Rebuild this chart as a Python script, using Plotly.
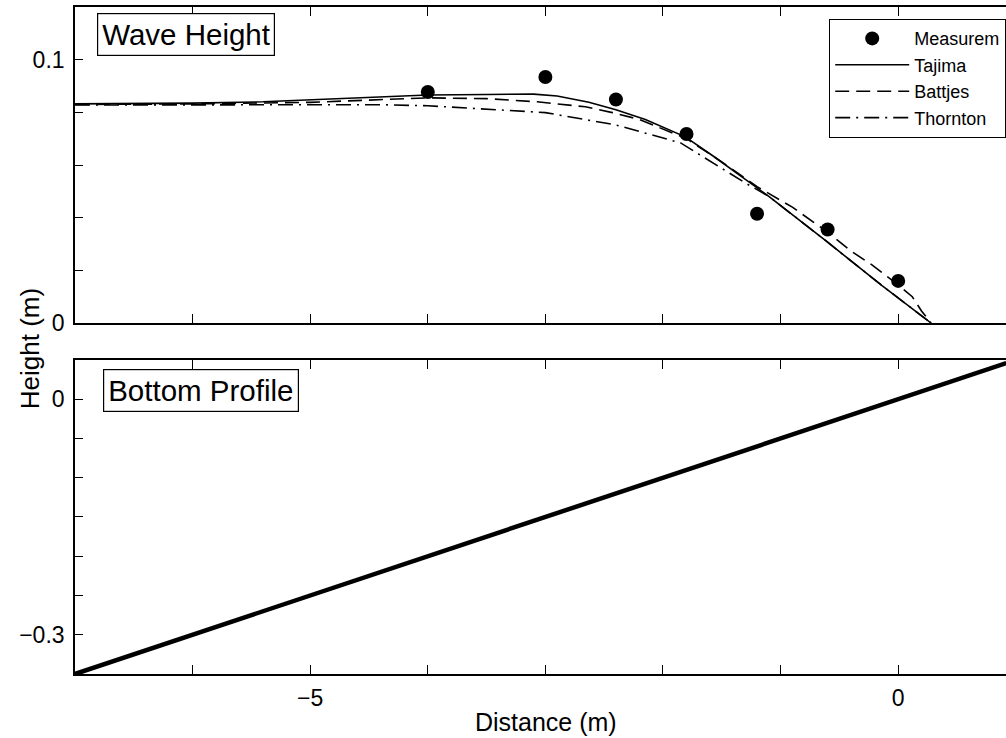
import plotly.graph_objects as go

# ---- data ----
meas_x = [-4.0, -3.0, -2.4, -1.8, -1.2, -0.6, 0.0]
meas_y = [0.0877, 0.0934, 0.0849, 0.0718, 0.0415, 0.0355, 0.0160]

tajima_x = [-7.0, -6.0, -5.4, -5.0, -4.3, -4.0, -3.5, -3.1, -2.9, -2.63, -2.4, -2.15, -1.81, -1.58, -1.1, -0.6, -0.14, 0.28]
tajima_y = [0.0832, 0.0835, 0.0840, 0.0848, 0.0862, 0.0866, 0.0868, 0.0869, 0.0862, 0.0838, 0.0810, 0.0773, 0.0707, 0.0636, 0.0481, 0.0307, 0.0143, 0.0]

battjes_x = [-7.0, -6.0, -5.0, -4.4, -4.0, -3.5, -3.07, -2.66, -2.43, -2.2, -2.0, -1.8, -1.5, -1.2, -0.9, -0.6, -0.4, -0.22, 0.0, 0.12, 0.2, 0.28]
battjes_y = [0.0830, 0.0832, 0.0838, 0.0848, 0.0855, 0.0852, 0.0840, 0.0821, 0.0799, 0.0773, 0.0738, 0.0700, 0.0612, 0.0518, 0.0440, 0.0345, 0.0273, 0.0220, 0.0145, 0.0100, 0.0045, 0.0]

thornton_x = [-7.0, -6.0, -5.0, -4.4, -4.0, -3.5, -3.0, -2.4, -1.85, -1.3, -1.1, -0.6, -0.14, 0.28]
thornton_y = [0.0828, 0.0828, 0.0829, 0.0829, 0.0825, 0.0813, 0.0799, 0.0752, 0.0684, 0.0532, 0.0481, 0.0307, 0.0143, 0.0]

bottom_x = [-7.0, 0.92]
bottom_y = [-0.35, 0.046]

x_ticks = [-6, -5, -4, -3, -2, -1, 0]
x_ticktext = ["", "\u22125", "", "", "", "", "0"]
y1_ticks = [0, 0.02, 0.04, 0.06, 0.08, 0.1]
y1_ticktext = ["0", "", "", "", "", "0.1"]
y2_ticks = [-0.3, -0.25, -0.2, -0.15, -0.1, -0.05, 0.0]
y2_ticktext = ["\u22120.3", "", "", "", "", "", "0"]

FONT = "Liberation Sans, Arial, Helvetica, sans-serif"

fig = go.Figure()
fig.add_trace(go.Scatter(x=meas_x, y=meas_y, mode="markers", name="Measurem",
                         marker=dict(color="black", size=14), xaxis="x", yaxis="y"))
fig.add_trace(go.Scatter(x=tajima_x, y=tajima_y, mode="lines", name="Tajima",
                         line=dict(color="black", width=1.6), xaxis="x", yaxis="y"))
fig.add_trace(go.Scatter(x=battjes_x, y=battjes_y, mode="lines", name="Battjes",
                         line=dict(color="black", width=1.6, dash="14px,7px"), xaxis="x", yaxis="y"))
fig.add_trace(go.Scatter(x=thornton_x, y=thornton_y, mode="lines", name="Thornton",
                         line=dict(color="black", width=1.6, dash="15px,6px,2px,6px"), xaxis="x", yaxis="y"))
fig.add_trace(go.Scatter(x=bottom_x, y=bottom_y, mode="lines", showlegend=False,
                         line=dict(color="black", width=4.5), xaxis="x2", yaxis="y2"))

xcommon = dict(range=[-7, 0.917], tickvals=x_ticks, ticks="inside", ticklen=9, tickwidth=1.2,
               tickcolor="black", showline=True, linecolor="black", linewidth=1.6,
               mirror="ticks", showgrid=False, zeroline=False,
               tickfont=dict(family=FONT, size=23, color="black"))
ycommon = dict(ticks="inside", ticklen=8, tickwidth=1.2, tickcolor="black", showline=True,
               linecolor="black", linewidth=1.6, showgrid=False, zeroline=False,
               tickfont=dict(family=FONT, size=23, color="black"), ticklabelstandoff=4)

fig.update_layout(
    width=1006, height=738,
    margin=dict(l=75, r=0, t=7, b=64),
    paper_bgcolor="white", plot_bgcolor="white",
    font=dict(family=FONT, color="black"),
    xaxis=dict(xcommon, anchor="y", domain=[0, 1], showticklabels=False),
    yaxis=dict(ycommon, anchor="x", domain=[0.5262, 1], range=[0, 0.12],
               tickvals=y1_ticks, ticktext=y1_ticktext),
    xaxis2=dict(xcommon, anchor="y2", domain=[0, 1], ticktext=x_ticktext, ticklabelstandoff=3),
    yaxis2=dict(ycommon, anchor="x2", domain=[0, 0.4708], range=[-0.35, 0.05],
                tickvals=y2_ticks, ticktext=y2_ticktext),
    legend=dict(x=1, xanchor="right", y=0.982, yanchor="top", bgcolor="white",
                bordercolor="black", borderwidth=1.2, font=dict(family=FONT, size=18, color="black"),
                itemwidth=74),
    showlegend=True,
)

fig.add_annotation(text="Wave Height", xref="paper", yref="y domain", x=0.0236, y=0.981,
                   xanchor="left", yanchor="top", showarrow=False, bordercolor="black",
                   borderwidth=1.2, borderpad=4, bgcolor="white",
                   font=dict(family=FONT, size=29.5, color="black"))
fig.add_annotation(text="Bottom Profile", xref="paper", yref="y2 domain", x=0.030, y=0.971,
                   xanchor="left", yanchor="top", showarrow=False, bordercolor="black",
                   borderwidth=1.2, borderpad=4, bgcolor="white",
                   font=dict(family=FONT, size=29.5, color="black"))
fig.add_annotation(text="Height (m)", xref="paper", yref="paper", x=-0.0483, y=0.487,
                   xanchor="center", yanchor="middle",
                   textangle=-90, showarrow=False, font=dict(family=FONT, size=26, color="black"))
fig.add_annotation(text="Distance (m)", xref="paper", yref="paper", x=0.506, y=-0.072,
                   xanchor="center", yanchor="middle",
                   showarrow=False, font=dict(family=FONT, size=25, color="black"))

fig.write_html("out.html", config={"displayModeBar": False},
               post_script="document.body.style.margin='0';document.body.style.overflow='hidden';")
